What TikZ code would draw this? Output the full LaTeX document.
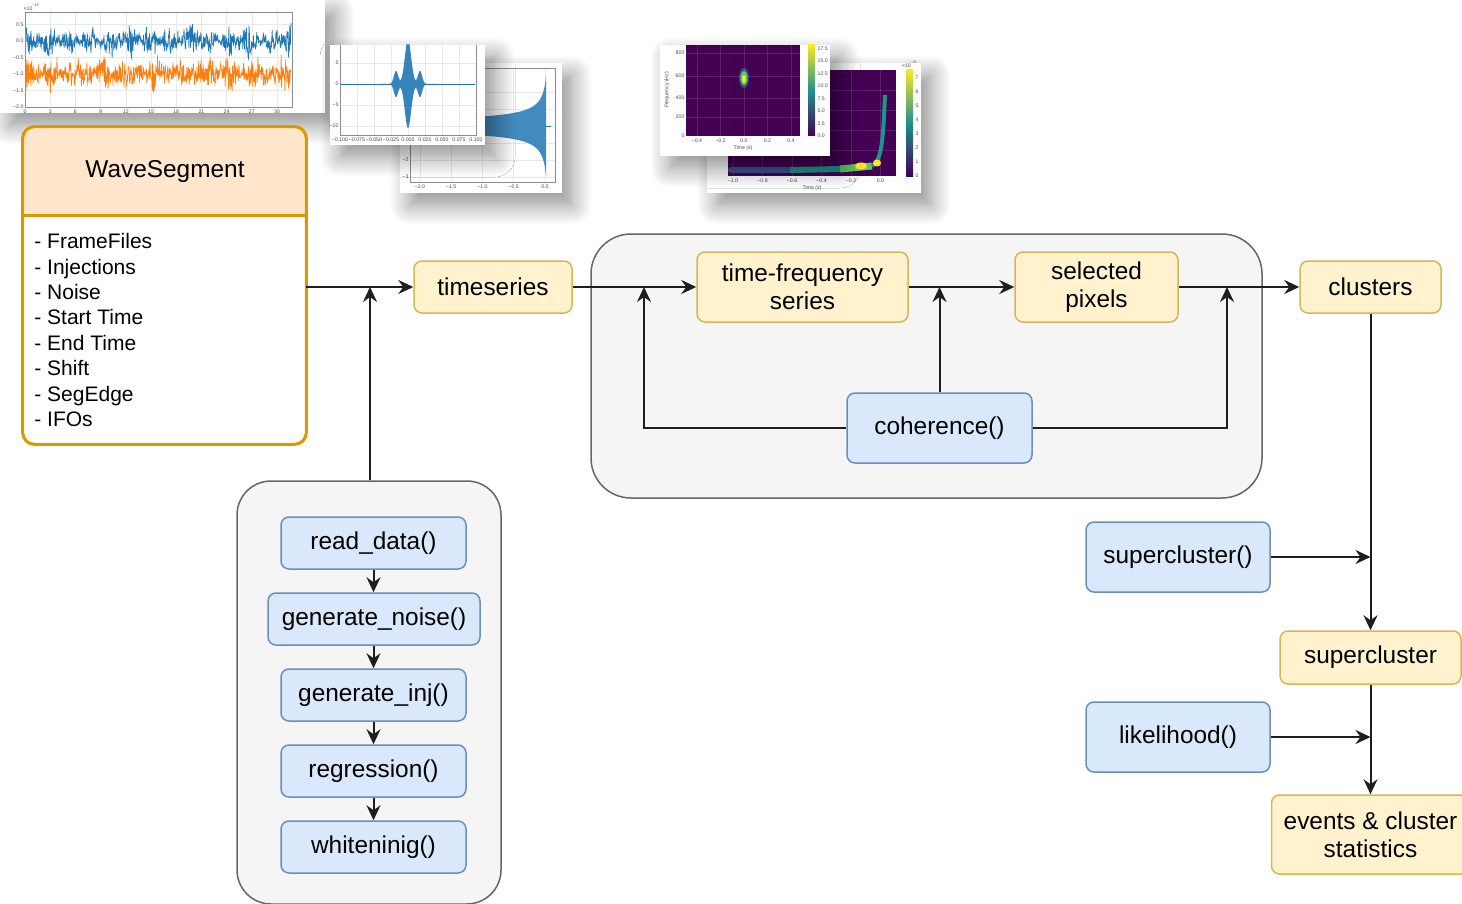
\documentclass[tikz,border=0pt]{standalone}
\usepackage{fontspec}
\setmainfont{Liberation Sans}
\usetikzlibrary{arrows.meta,shadows.blur,calc}

\definecolor{ylfill}{HTML}{FFF2CC}
\definecolor{yldraw}{HTML}{D6B656}
\definecolor{blfill}{HTML}{DAE8FC}
\definecolor{bldraw}{HTML}{6C8EBF}
\definecolor{grfill}{HTML}{F5F5F5}
\definecolor{grdraw}{HTML}{666666}
\definecolor{wsfill}{HTML}{FFE6CC}
\definecolor{wsdraw}{HTML}{D79B00}
\definecolor{mplblue}{HTML}{1F77B4}
\definecolor{mplorange}{HTML}{FF7F0E}
\definecolor{vir0}{HTML}{440154}
\definecolor{vir1}{HTML}{3B528B}
\definecolor{vir2}{HTML}{21918C}
\definecolor{vir3}{HTML}{5EC962}
\definecolor{vir4}{HTML}{FDE725}
\definecolor{gridc}{HTML}{E8E8E8}
\definecolor{linec}{HTML}{1E1E1E}

\begin{document}
\begin{tikzpicture}[x=0.5pt,y=-0.5pt,
  nbox/.style={rounded corners=4pt, line width=0.75pt, align=center,
    font=\fontsize{12.2}{14}\selectfont, inner sep=0pt},
  ybox/.style={nbox, fill=ylfill, draw=yldraw},
  bbox/.style={nbox, fill=blfill, draw=bldraw},
  grp/.style={fill=grfill, draw=grdraw, line width=0.75pt, inner sep=0pt},
  arr/.style={draw=linec, line width=1pt, -{Stealth[length=7.5pt,width=7pt,inset=2.5pt]}},
  ticklbl/.style={font=\fontsize{2.6}{3}\selectfont, text=black!70, inner sep=0.6pt},
  plotframe/.style={fill=white, blur shadow={shadow xshift=5pt, shadow yshift=-6pt,
    shadow blur radius=10pt, shadow blur steps=12, shadow opacity=45}},
  gridln/.style={draw=gridc, line width=0.3pt},
]
\useasboundingbox (0,0) rectangle (1462,904);

% ---------- strain time series (two detectors) ----------
\fill[plotframe] (0,0) rectangle (325,113);
\foreach \t in {0,3,...,30} {
  \draw[gridln] ({25+\t*8.4},12) -- ({25+\t*8.4},107);
  \node[ticklbl, anchor=north] at ({25+\t*8.4},108) {\t};
}
\foreach \v/\l in {0.5/0.5,0/0.0,-0.5/−0.5,-1/−1.0,-1.5/−1.5,-2/−2.0} {
  \draw[gridln] (25,{41-\v*33}) -- (292,{41-\v*33});
  \node[ticklbl, anchor=east] at (25,{41-\v*33}) {\l};
}
\draw[black!45, line width=0.3pt] (25,12) rectangle (292,107);
\node[ticklbl, anchor=south west] at (22,12) {×10\textsuperscript{−19}};
\pgfmathsetseed{17}
\draw[mplblue, line width=0.35pt] plot[domain=26:291, samples=650]
  (\x, {41 + (6+6*sin(\x*9)^2)*(rand+rand)/2*1.6});
\draw[mplorange, line width=0.35pt] plot[domain=26:291, samples=650]
  (\x, {74 + (7+6*cos(\x*7)^2)*(rand+rand)/2*1.6});

% ---------- chirp waveform ----------
\fill[plotframe] (400,63) rectangle (562,193);
\foreach \i/\l in {0/−2.0,1/−1.5,2/−1.0,3/−0.5,4/0.0} {
  \draw[gridln] ({420+\i*31.25},68) -- ({420+\i*31.25},182);
  \node[ticklbl, anchor=north] at ({420+\i*31.25},183) {\l};
}
\foreach \y/\l in {92/2,109/1,126/0,143/−1,160/−2,177/−3} {
  \draw[gridln] (410,\y) -- (555,\y);
  \node[ticklbl, anchor=east] at (410,\y) {\l};
}
\draw[black!45, line width=0.3pt] (410,68) rectangle (555,182);
\fill[mplblue!85] plot[domain=405:546, samples=200] (\x, {126 - 6.5/sqrt(1.017-(\x-405)/141)})
  -- plot[domain=546:405, samples=200] (\x, {126 + 6.5/sqrt(1.017-(\x-405)/141)}) -- cycle;
\draw[mplblue, line width=0.4pt] (546,126) -- (551,126);

% ---------- sine-gaussian burst ----------
\fill[plotframe] (330,45) rectangle (485,145);
\foreach \i/\l in {0/−0.100,1/−0.075,2/−0.050,3/−0.025,4/0.000,5/0.025,6/0.050,7/0.075,8/0.100} {
  \draw[gridln] ({340+\i*17},45) -- ({340+\i*17},135);
  \node[ticklbl, anchor=north] at ({340+\i*17},136) {\l};
}
\foreach \y/\l in {63/5,84/0,105/−5,126/−10} {
  \draw[gridln] (340,\y) -- (476,\y);
  \node[ticklbl, anchor=east] at (340,\y) {\l};
}
\draw[black!45, line width=0.3pt] (340,45) -- (340,135) -- (476,135) -- (476,45);
\begin{scope}
  \clip (330,45) rectangle (485,145);
  \draw[mplblue, line width=0.4pt] (341,84) -- (475,84);
  \fill[mplblue!90] plot[domain=380:436, samples=220]
    (\x, {84 - (44*exp(-((\x-408)/4.5)^2) + 13*exp(-((\x-396)/3)^2) + 13*exp(-((\x-420)/3)^2))})
    -- plot[domain=436:380, samples=220]
    (\x, {84 + (44*exp(-((\x-408)/4.5)^2) + 13*exp(-((\x-396)/3)^2) + 13*exp(-((\x-420)/3)^2))}) -- cycle;
\end{scope}

% ---------- chirp spectrogram ----------
\fill[plotframe] (707,63) rectangle (921,193);
\fill[vir0] (728,70) rectangle (896,176);
\foreach \i/\l in {0/−1.0,1/−0.8,2/−0.6,3/−0.4,4/−0.2,5/0.0} {
  \draw[white, opacity=0.12, line width=0.3pt] ({733+\i*29.5},70) -- ({733+\i*29.5},176);
  \node[ticklbl, anchor=north] at ({733+\i*29.5},177) {\l};
}
\foreach \y in {90,110,130,150} {\draw[white, opacity=0.12, line width=0.3pt] (728,\y) -- (896,\y);}
\node[ticklbl, anchor=east] at (728,153) {100};
\node[ticklbl] at (812,188) {Time (s)};
\draw[vir1, line width=3pt, line cap=round] (731,170) -- (790,170);
\draw[vir2, line width=3pt] (790,170) -- (840,169);
\draw[vir3, line width=3.5pt] (840,169) -- (872,166);
\draw[vir2, line width=2pt] (872,166) .. controls (882,160) and (883,140) .. (885,95);
\fill[vir4] (861,166) ellipse (6 and 3.5);
\fill[vir4] (877,163) ellipse (4 and 3.5);
\shade[top color=vir4, bottom color=vir0, middle color=vir2] (906,70) rectangle (913,176);
\foreach \k in {0,...,7} {\node[ticklbl, anchor=west] at (914,{176-\k*14}) {\k};}
\node[ticklbl, anchor=south] at (910,69) {×10\textsuperscript{−21}};

% ---------- burst spectrogram ----------
\fill[plotframe] (660,45) rectangle (830,156);
\fill[vir0] (686,45) rectangle (800,136);
\foreach \i/\l in {0/−0.4,1/−0.2,2/0.0,3/0.2,4/0.4} {
  \draw[white, opacity=0.12, line width=0.3pt] ({697+\i*23.5},45) -- ({697+\i*23.5},136);
  \node[ticklbl, anchor=north] at ({697+\i*23.5},137) {\l};
}
\foreach \y/\l in {53/800,76/600,98/400,117/200,136/0} {
  \draw[white, opacity=0.12, line width=0.3pt] (686,\y) -- (800,\y);
  \node[ticklbl, anchor=east] at (686,\y) {\l};
}
\node[ticklbl, rotate=90] at (667,90) {Frequency (Hz)};
\node[ticklbl] at (743,148) {Time (s)};
\fill[vir2, opacity=0.6] (744,78) ellipse (5 and 10);
\fill[vir3] (744,78) ellipse (3.5 and 7);
\fill[vir4] (744,79) ellipse (1.8 and 4);
\shade[top color=vir4, bottom color=vir0, middle color=vir2] (808,45) rectangle (815,136);
\foreach \k/\l in {0/0.0,1/2.5,2/5.0,3/7.5,4/10.0,5/12.5,6/15.0,7/17.5} {
  \node[ticklbl, anchor=west] at (816,{136-\k*12.5}) {\l};
}

% ---------- groups ----------
\node[grp, rounded corners=20pt, minimum width=335.5pt, minimum height=132pt] (g1) at (926.5,366) {};
\node[grp, rounded corners=17pt, minimum width=132pt, minimum height=211.5pt] (g2) at (369,692.5) {};

% ---------- WaveSegment ----------
\node[fill=white, rounded corners=6pt, minimum width=141.5pt, minimum height=158.5pt, inner sep=0pt] (ws) at (164.5,285.5) {};
\coordinate (hdr) at (164.5,215);
\begin{scope}
  \clip (ws.north west) rectangle (ws.east |- hdr);
  \fill[wsfill, rounded corners=6pt] (ws.north west) rectangle (ws.south east);
\end{scope}
\draw[wsdraw, line width=1.5pt, rounded corners=6pt] (ws.north west) rectangle (ws.south east);
\draw[wsdraw, line width=1.5pt] (ws.west |- hdr) -- (ws.east |- hdr);
\node[font=\fontsize{12.2}{14}\selectfont] (wst) at (165,172) {WaveSegment};
\node[anchor=west, align=left, inner sep=0pt, font=\fontsize{10.5}{12.7}\selectfont] (wsl) at (34,330)
  {- FrameFiles\\- Injections\\- Noise\\- Start Time\\- End Time\\- Shift\\- SegEdge\\- IFOs};

% ---------- pipeline nodes ----------
\node[ybox, minimum width=79pt, minimum height=26pt] (ts) at (493,287) {timeseries};
\node[ybox, minimum width=105.5pt, minimum height=35pt] (tf) at (802.5,287) {time-frequency\\series};
\node[ybox, minimum width=81.5pt, minimum height=35pt] (sp) at (1096.5,287) {selected\\pixels};
\node[ybox, minimum width=70.5pt, minimum height=26pt] (cl) at (1370.5,287) {clusters};
\node[bbox, minimum width=92.5pt, minimum height=35pt] (coh) at (939.5,428) {coherence()};
\node[bbox, minimum width=92pt, minimum height=35pt] (scf) at (1178,557) {supercluster()};
\node[ybox, minimum width=90.5pt, minimum height=26.5pt] (sc) at (1370.5,657.5) {supercluster};
\node[bbox, minimum width=92pt, minimum height=35pt] (lk) at (1178,737) {likelihood()};
\node[ybox, minimum width=99pt, minimum height=39.5pt] (ev) at (1370.5,834.5) {events \& cluster\\statistics};

\node[bbox, minimum width=92.5pt, minimum height=26pt] (rd) at (373.5,543) {read\_data()};
\node[bbox, minimum width=106pt, minimum height=26pt] (gn) at (374,619) {generate\_noise()};
\node[bbox, minimum width=92.5pt, minimum height=26pt] (gi) at (373.5,695) {generate\_inj()};
\node[bbox, minimum width=92.5pt, minimum height=26pt] (rg) at (373.5,771) {regression()};
\node[bbox, minimum width=92.5pt, minimum height=26pt] (wh) at (373.5,847) {whiteninig()};

% ---------- connectors ----------
\coordinate (j1) at (370,287);
\coordinate (j2) at (644,287);
\coordinate (j4) at (1227,287);
\coordinate (j5) at (1370.5,557);
\coordinate (j6) at (1370.5,737);

\draw[arr] (ws.east |- ts.west) -- (ts.west);
\draw[arr] (g2.north -| j1) -- (j1);
\draw[arr] (ts.east) -- (tf.west);
\draw[arr] (tf.east) -- (sp.west);
\draw[arr] (sp.east) -- (cl.west);
\draw[arr] (coh.west) -| (j2);
\draw[arr] (coh.north) -- (coh.north |- tf.east);
\draw[arr] (coh.east) -| (j4);
\draw[arr] (cl.south) -- (sc.north);
\draw[arr] (scf.east) -- (j5);
\draw[arr] (sc.south) -- (sc.south |- ev.north);
\draw[arr] (lk.east) -- (j6);

\draw[arr] (rd.south) -- (rd.south |- gn.north);
\draw[arr] (gn.south -| gi.north) -- (gi.north);
\draw[arr] (gi.south) -- (rg.north);
\draw[arr] (rg.south) -- (wh.north);
\end{tikzpicture}
\end{document}
